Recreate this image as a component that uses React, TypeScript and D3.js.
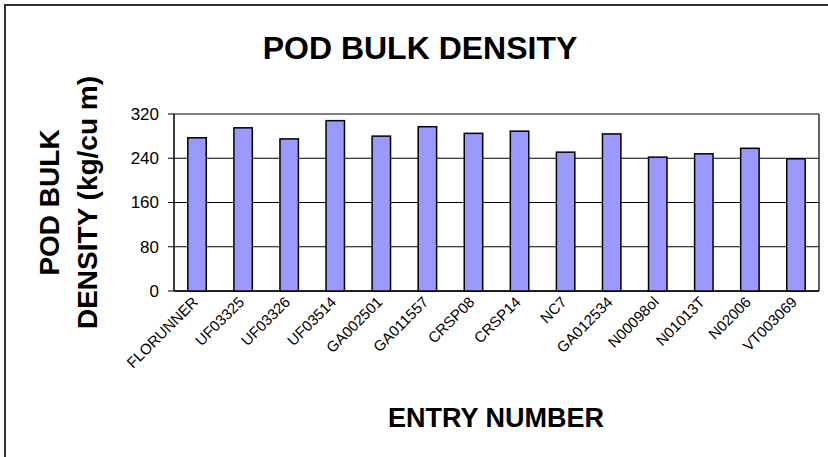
import React from 'react';
import * as d3 from 'd3';

const entries = [
  'FLORUNNER', 'UF03325', 'UF03326', 'UF03514', 'GA002501', 'GA011557', 'CRSP08',
  'CRSP14', 'NC7', 'GA012534', 'N00098ol', 'N01013T', 'N02006', 'VT003069',
];
const density = [277, 295, 275, 308, 280, 297, 285, 289, 251, 284, 242, 248, 258, 239];
const yTicks = [0, 80, 160, 240, 320];

const W = 828;
const H = 457;
const margin = { top: 114, right: 9, bottom: 166, left: 174 };
const FONT = '"Liberation Sans", Arial, sans-serif';

export default function App() {
  const innerW = W - margin.left - margin.right;
  const innerH = H - margin.top - margin.bottom;

  const x = d3.scaleBand().domain(entries).range([0, innerW]).paddingInner(0.6).paddingOuter(0.3);
  const y = d3.scaleLinear().domain([0, 320]).range([innerH, 0]);

  return (
    <svg
      width={W}
      height={H}
      style={{ position: 'absolute', left: 0, top: 0, background: '#fff', fontFamily: FONT }}
    >
      {/* outer chart border, only top and left visible */}
      <rect x={5} y={5} width={W} height={H} fill="#fff" stroke="#333" strokeWidth={2} />

      <text x={420} y={59} textAnchor="middle" fontSize={32} fontWeight="bold" fill="#000">
        POD BULK DENSITY
      </text>

      <g transform={`translate(${margin.left},${margin.top})`}>
        {yTicks.map(t => (
          <g key={t}>
            <line x1={0} x2={innerW} y1={y(t)} y2={y(t)} stroke="#000" strokeWidth={1} />
            <line x1={-6} x2={0} y1={y(t)} y2={y(t)} stroke="#000" strokeWidth={1} />
            <text x={-15} y={y(t)} dy="0.35em" textAnchor="end" fontSize={17} fill="#000">
              {t}
            </text>
          </g>
        ))}
        <line x1={innerW} x2={innerW} y1={0} y2={innerH} stroke="#333" strokeWidth={1.5} />
        <line x1={0} x2={0} y1={0} y2={innerH} stroke="#000" strokeWidth={1.5} />
        <line x1={0} x2={innerW} y1={innerH} y2={innerH} stroke="#000" strokeWidth={1.5} />

        {entries.map((e, i) => (
          <rect
            key={e}
            x={x(e)}
            y={y(density[i])}
            width={x.bandwidth()}
            height={innerH - y(density[i])}
            fill="#9999FF"
            stroke="#000"
            strokeWidth={1.5}
          />
        ))}

        {entries.map(e => {
          const cx = (x(e) as number) + x.bandwidth() / 2;
          return (
            <text
              key={e}
              transform={`translate(${cx + 2},${innerH + 12}) rotate(-45)`}
              textAnchor="end"
              fontSize={15}
              fill="#000"
            >
              {e}
            </text>
          );
        })}
      </g>

      <text x={496} y={427} textAnchor="middle" fontSize={27} fontWeight="bold" fill="#000">
        ENTRY NUMBER
      </text>

      <text
        transform={`translate(59,${margin.top + innerH / 2}) rotate(-90)`}
        textAnchor="middle"
        fontSize={28}
        fontWeight="bold"
        fill="#000"
      >
        <tspan x={0} dy={0}>POD BULK</tspan>
        <tspan x={0} dy={38}>DENSITY (kg/cu m)</tspan>
      </text>
    </svg>
  );
}
